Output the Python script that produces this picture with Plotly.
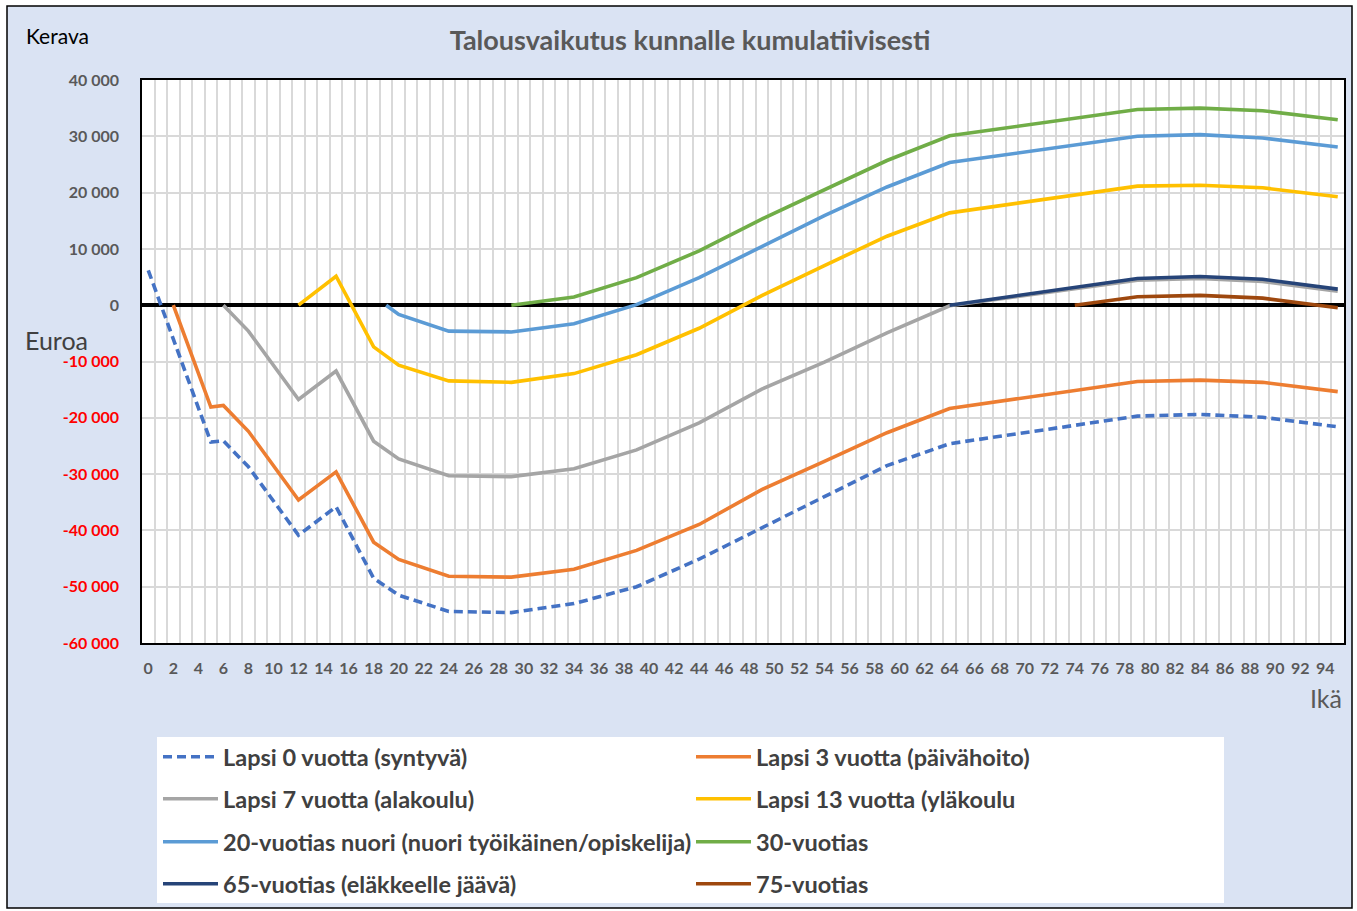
import plotly.graph_objects as go

# ---------------- data ----------------
age_lapsi0 = [0, 5, 6, 8, 12, 15, 18, 20, 24, 29, 34, 39, 44, 49, 54, 59, 64, 79, 84, 89, 95]
val_lapsi0 = [6200, -24300, -24100, -28700, -40850, -35800, -48500, -51500, -54400, -54600, -53000,
              -50000, -45100, -39500, -34000, -28500, -24600, -19700, -19400, -19900, -21600]

age_lapsi3 = [2, 5, 6, 8, 12, 15, 18, 20, 24, 29, 34, 39, 44, 49, 54, 59, 64, 79, 84, 89, 95]
val_lapsi3 = [0, -18100, -17800, -22400, -34600, -29600, -42100, -45150, -48150, -48300, -46900,
              -43550, -38950, -32750, -27750, -22650, -18350, -13550, -13300, -13700, -15350]

age_lapsi7 = [6, 8, 12, 15, 18, 20, 24, 29, 34, 39, 44, 49, 54, 59, 64, 79, 84, 89, 95]
val_lapsi7 = [0, -4600, -16750, -11700, -24150, -27300, -30300, -30450, -29050, -25700, -20900,
              -14900, -10100, -4900, -100, 4450, 4750, 4200, 2500]

age_lapsi13 = [12, 15, 18, 20, 24, 29, 34, 39, 44, 49, 54, 59, 64, 79, 84, 89, 95]
val_lapsi13 = [0, 5150, -7400, -10650, -13450, -13700, -12150, -8800, -4100, 1700, 7050, 12250,
               16400, 21150, 21300, 20850, 19250]

age_20 = [19, 20, 24, 29, 34, 39, 44, 49, 54, 59, 64, 79, 84, 89, 95]
val_20 = [0, -1650, -4600, -4750, -3300, 100, 4900, 10400, 15900, 21000, 25350, 30000, 30300, 29700, 28100]

age_30 = [29, 34, 39, 44, 49, 54, 59, 64, 79, 84, 89, 95]
val_30 = [0, 1450, 4900, 9650, 15300, 20500, 25700, 30100, 34750, 35000, 34550, 32950]

age_65 = [64, 79, 84, 89, 95]
val_65 = [0, 4750, 5100, 4600, 2850]

age_75 = [74, 79, 84, 89, 95]
val_75 = [0, 1500, 1750, 1250, -450]

names = ["Lapsi 0 vuotta (syntyvä)", "Lapsi 3 vuotta (päivähoito)",
         "Lapsi 7 vuotta (alakoulu)", "Lapsi 13 vuotta (yläkoulu",
         "20-vuotias nuori (nuori työikäinen/opiskelija)", "30-vuotias",
         "65-vuotias (eläkkeelle jäävä)", "75-vuotias"]

x_ticks = list(range(0, 95, 2))
x_ticklabels = [str(v) for v in x_ticks]
y_ticks = [40000, 30000, 20000, 10000, 0, -10000, -20000, -30000, -40000, -50000, -60000]
y_ticklabels = ["40 000", "30 000", "20 000", "10 000", "0", "-10 000", "-20 000",
                "-30 000", "-40 000", "-50 000", "-60 000"]

# ---------------- styling ----------------
colors = ["#4472C4", "#ED7D31", "#A5A5A5", "#FFC000", "#5B9BD5", "#70AD47", "#264478", "#9E480E"]
series = [(age_lapsi0, val_lapsi0), (age_lapsi3, val_lapsi3), (age_lapsi7, val_lapsi7),
          (age_lapsi13, val_lapsi13), (age_20, val_20), (age_30, val_30),
          (age_65, val_65), (age_75, val_75)]
legend_ids = ["legend", "legend", "legend2", "legend2", "legend3", "legend3", "legend4", "legend4"]

W, H = 1357, 911
L, R, T, B = 142, 13, 80, 268
PW, PH = W - L - R, H - T - B


def px(xp):
    return (xp - L) / PW


def py(yp):
    return (H - B - yp) / PH


FONT = "Lato"

fig = go.Figure()
for i, ((xs, ys), name, col) in enumerate(zip(series, names, colors)):
    fig.add_trace(go.Scatter(
        x=xs, y=ys, mode="lines", name=name,
        line=dict(color=col, width=3.6, dash="9px,5px" if i == 0 else "solid"),
        legend=legend_ids[i], hoverinfo="x+y+name",
    ))

ytext = []
for v, t in zip(y_ticks, y_ticklabels):
    if v < 0:
        ytext.append('<span style="color:#FF0000">' + t + '</span>')
    else:
        ytext.append(t)

legend_common = dict(orientation="h", bgcolor="rgba(0,0,0,0)", entrywidth=463,
                     entrywidthmode="pixels", xanchor="left", yanchor="middle",
                     font=dict(family=FONT, size=23.5, color="#404040", weight="bold"),
                     itemwidth=55, traceorder="normal")
row_y = [757, 799, 842, 884]
LEGX = 158

fig.update_layout(
    width=W, height=H,
    margin=dict(l=L, r=R, t=T, b=B, autoexpand=False),
    paper_bgcolor="white", plot_bgcolor="white",
    title=dict(text="<b>Talousvaikutus kunnalle kumulatiivisesti</b>",
               font=dict(family=FONT, size=27, color="#595959"),
               x=px(690), xref="paper", xanchor="center",
               y=1 - 41 / H, yref="container", yanchor="middle"),
    xaxis=dict(range=[-0.5, 95.5], tickmode="array", tickvals=x_ticks, ticktext=x_ticklabels,
               showgrid=False, zeroline=False, ticks="", ticklabelstandoff=10,
               tickfont=dict(family=FONT, size=16, color="#595959", weight="bold"),
               showline=True, mirror=True, linecolor="#000000", linewidth=1.5,
               minor=dict(tickvals=[k + 0.5 for k in range(95)], showgrid=True,
                          gridcolor="#D9D9D9", gridwidth=1.5, ticks="")),
    yaxis=dict(range=[-60000, 40000], tickmode="array", tickvals=y_ticks, ticktext=ytext,
               showgrid=True, gridcolor="#D9D9D9", gridwidth=1.5,
               zeroline=True, zerolinecolor="#000000", zerolinewidth=3.5,
               ticks="", ticklabelstandoff=18,
               tickfont=dict(family=FONT, size=16, color="#595959", weight="bold"),
               showline=True, mirror=True, linecolor="#000000", linewidth=1.5),
    legend=dict(legend_common, x=px(LEGX), y=py(row_y[0])),
    legend2=dict(legend_common, x=px(LEGX), y=py(row_y[1])),
    legend3=dict(legend_common, x=px(LEGX), y=py(row_y[2])),
    legend4=dict(legend_common, x=px(LEGX), y=py(row_y[3])),
    shapes=[
        dict(type="rect", xref="paper", yref="paper", layer="below",
             x0=px(7), x1=px(1352), y0=py(908), y1=py(6),
             fillcolor="#DAE3F3", line=dict(color="#000000", width=1.5)),
        dict(type="rect", xref="paper", yref="paper", layer="below",
             x0=0, x1=1, y0=0, y1=1, fillcolor="white", line=dict(width=0)),
        dict(type="rect", xref="paper", yref="paper", layer="below",
             x0=px(157), x1=px(1224), y0=py(903), y1=py(737),
             fillcolor="white", line=dict(width=0)),
    ],
    annotations=[
        dict(text="Kerava", xref="paper", yref="paper", x=px(24), y=py(35),
             xanchor="left", yanchor="middle", showarrow=False,
             font=dict(family=FONT, size=21, color="#000000")),
        dict(text="Euroa", xref="paper", yref="paper", x=px(23), y=py(340),
             xanchor="left", yanchor="middle", showarrow=False,
             font=dict(family=FONT, size=25, color="#404040")),
        dict(text="Ikä", xref="paper", yref="paper", x=px(1344), y=py(698),
             xanchor="right", yanchor="middle", showarrow=False,
             font=dict(family=FONT, size=25, color="#595959")),
    ],
)

fig.write_html("out.html", config={"displayModeBar": False},
               post_script="document.body.style.margin='0px';")
